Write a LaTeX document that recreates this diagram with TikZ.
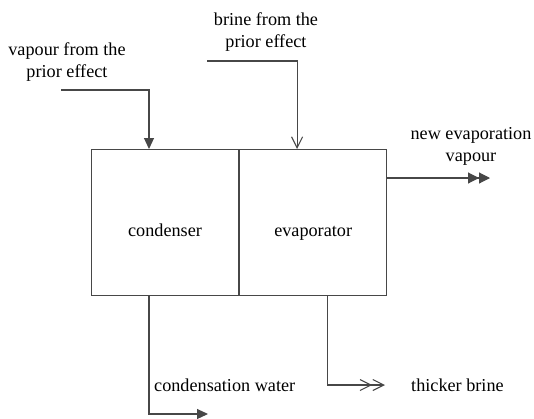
\documentclass[tikz,border=0pt]{standalone}
\usepackage{fontspec}
\setmainfont{Liberation Serif}
\usetikzlibrary{arrows.meta, positioning}
\definecolor{LineGray}{HTML}{474747}

\begin{document}
\begin{tikzpicture}[x=1pt, y=-1pt,
    every node/.style={font=\fontsize{18.2}{22}\selectfont},
    unit/.style={draw=LineGray, line width=1.1pt, minimum width=147pt, minimum height=146pt,
      inner sep=0pt, text height=27pt, text depth=0pt},
    flow/.style={draw=LineGray, line width=1.1pt},
    lbl/.style={align=center, inner sep=0pt},
    solidtip/.style={-{Triangle[length=11pt, width=10pt]}},
    opentip/.style={-{Straight Barb[length=11pt, width=11pt]}},
    dsolidtip/.style={-{Triangle[length=11pt, width=11pt]Triangle[length=11pt, width=11pt]}},
    dopentip/.style={-{Straight Barb[length=11pt, width=11pt]Straight Barb[length=11pt, width=11pt]}}]
        \useasboundingbox (0,0) rectangle (534,418);
        % Khoi thiet bi
        \node[unit, anchor=north west] (condenser) at (91,149) {condenser};
        \node[unit, right=0pt of condenser] (evaporator) {evaporator};
        % Nhan
        \node[lbl] (vapourlbl) at (67,62.5) {vapour from the\\prior effect};
        \node[lbl] (brinelbl) at (266,32.5) {brine from the\\prior effect};
        \node[lbl] (newlbl) at (471,146) {new evaporation\\vapour};
        \node[lbl, anchor=base west] (waterlbl) at (154,391) {condensation water};
        \node[lbl, anchor=base west] (thicklbl) at (411,391) {thicker brine};
        % Dong vao / ra
        \coordinate (vapour in) at (61,90);
        \coordinate (brine in) at (207,61);
        \coordinate (vapour out) at (490,178);
        \coordinate (water out) at (208,414);
        \coordinate (brine out) at (385,385);
        \draw[flow, solidtip] (vapour in) -| ([xshift=58pt]condenser.north west);
        \draw[flow, opentip] (brine in) -| ([xshift=58pt]evaporator.north west);
        \draw[flow, dsolidtip] (evaporator.east |- vapour out) -- (vapour out);
        \draw[flow, solidtip] ([xshift=58pt]condenser.south west) |- (water out);
        \draw[flow, dopentip] ([xshift=88pt]evaporator.south west) |- (brine out);
      \end{tikzpicture}
\end{document}
